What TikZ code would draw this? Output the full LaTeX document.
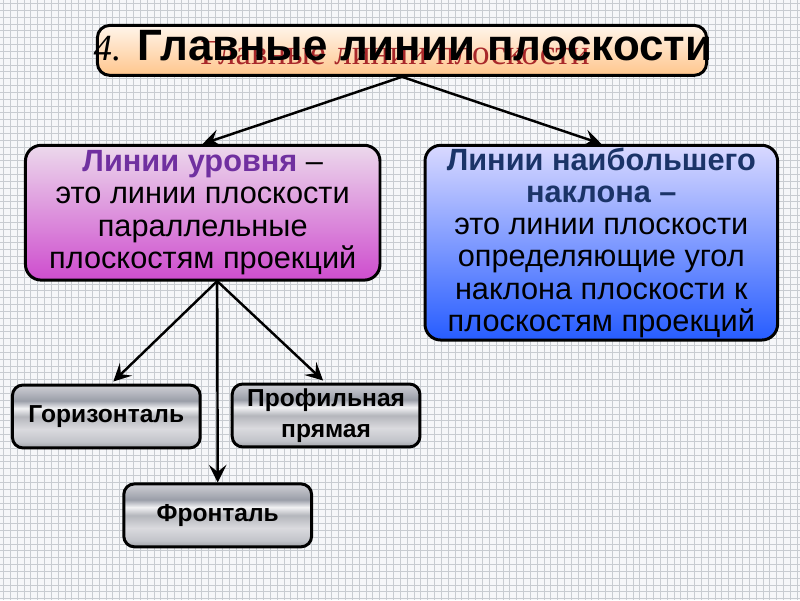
\documentclass[tikz,border=0pt]{standalone}
\usepackage{fontspec}
\setmainfont{Liberation Sans}
\newfontfamily\serifrm{Liberation Serif}
\usetikzlibrary{arrows.meta,calc}
\definecolor{gridbg}{HTML}{F6F7F9}
\definecolor{gridln}{HTML}{C8CCD1}
\definecolor{ghostred}{HTML}{A8282A}
\definecolor{lvlhead}{HTML}{7030A0}
\definecolor{steephead}{HTML}{1B3468}
\definecolor{metalA}{HTML}{A0A2A8}
\definecolor{metalB}{HTML}{C2C4CA}
\definecolor{metalC}{HTML}{DADADE}
\definecolor{metalD}{HTML}{B4B6BC}
\definecolor{metalE}{HTML}{F2F2F4}
\definecolor{metalF}{HTML}{9A9EA8}
\definecolor{metalG}{HTML}{D0D0D6}
\pgfdeclareverticalshading{metal}{100bp}{color(0bp)=(metalA); color(25bp)=(metalA); color(30bp)=(metalB); color(40bp)=(metalC); color(50bp)=(metalD); color(56.5bp)=(metalE); color(62.5bp)=(metalF); color(75bp)=(metalG); color(100bp)=(metalG)}
\tikzset{
	box/.style={draw=black,line width=1.7pt,align=center,inner sep=0pt},
	titlebox/.style={box,rounded corners=7pt,top color=orange!8,bottom color=orange!45!white,minimum width=12.2cm,minimum height=1.0cm},
	lvlbox/.style={box,rounded corners=9pt,top color=violet!15!white,bottom color=violet!55!magenta!70!white,minimum width=7.1cm,minimum height=2.7cm,font=\fontsize{17.5}{18.4}\selectfont},
	steepbox/.style={box,rounded corners=9pt,top color=blue!15!white,bottom color=blue!75!cyan!85!white,minimum width=7.06cm,minimum height=3.9cm,font=\fontsize{17.5}{18.4}\selectfont},
	kindbox/.style={box,rounded corners=6pt,shading=metal,minimum width=3.76cm,minimum height=1.26cm,font=\bfseries\fontsize{14}{16.4}\selectfont},
	arr/.style={-{Stealth[length=10pt,width=10pt,inset=4pt]},line width=1.4pt}
}
\begin{document}
\begin{tikzpicture}[x=0.02cm,y=-0.02cm]
	%Background Grid
	\fill[gridbg] (0,0) rectangle (800,600);
	\foreach \x in {0,...,116}
	\draw[gridln,line width=0.5pt] (6.85*\x+3,0)--(6.85*\x+3,600);
	\foreach \y in {0,...,87}
	\draw[gridln,line width=0.5pt] (0,6.85*\y+3)--(800,6.85*\y+3);
	
	%Title
	\node[titlebox] (title) at (402,50) {};
	\node[ghostred,font=\serifrm\fontsize{20}{22}\selectfont] (ghost) at (395,53) {Главные линии плоскости};
	\node[font=\fontsize{25}{28}\selectfont] (head) at (403,45) {{\serifrm\itshape\fontsize{21}{26}\selectfont 4.}\textbf{ Главные линии плоскости}};
	
	%Two Kinds of Lines
	\node[lvlbox] (lvl) at (202.5,212.5) {{\color{lvlhead}\textbf{Линии уровня}} –\\это линии плоскости\\параллельные\\плоскостям проекций};
	\node[steepbox] (steep) at (601.5,242.5) {\color{steephead}\textbf{Линии наибольшего}\\\color{steephead}\textbf{наклона –}\\это линии плоскости\\определяющие угол\\наклона плоскости к\\плоскостям проекций};
	
	%Lines of Level
	\node[kindbox] (hor) at (106,416.5) {Горизонталь};
	\node[kindbox] (prof) at (326,415.5) {Профильная\\[1pt]прямая};
	\node[kindbox] (front) at (217.5,515.5) {Фронталь};
	
	%Arrows
	\coordinate (fork) at (217,281);
	\draw[arr] (title.south) -- (lvl.north);
	\draw[arr] (title.south) -- (steep.north);
	\draw[arr] (fork) -- ($(hor.north)+(7,-2)$);
	\draw[arr] (fork) -- ($(prof.north)+(-3,-2)$);
	\draw[arr] (fork) -- (front.north);
\end{tikzpicture}
\end{document}
